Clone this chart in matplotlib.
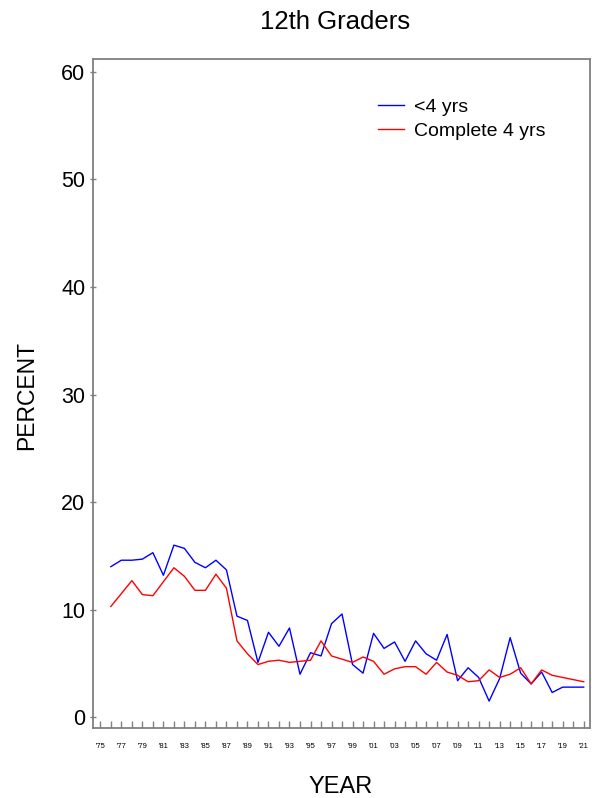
import matplotlib
matplotlib.use("Agg")
import matplotlib.pyplot as plt

plt.rcParams['font.family'] = ['Liberation Sans', 'DejaVu Sans']

years = list(range(1976, 2022))

# <4 yrs
less_4 = [14.0, 14.6, 14.6, 14.7, 15.3, 13.2, 16.0, 15.7, 14.4, 13.9,
          14.6, 13.7, 9.4, 9.0, 5.1, 7.9, 6.6, 8.3, 4.0, 6.0,
          5.7, 8.7, 9.6, 4.9, 4.1, 7.8, 6.4, 7.0, 5.2, 7.1,
          5.9, 5.3, 7.7, 3.4, 4.6, 3.7, 1.5, 3.6, 7.4, 4.1,
          3.1, 4.2, 2.3, 2.8, 2.8, 2.8]

# Complete 4 yrs
complete_4 = [10.3, 11.5, 12.7, 11.4, 11.3, 12.6, 13.9, 13.1, 11.8, 11.8,
              13.3, 12.0, 7.1, 5.9, 4.9, 5.2, 5.3, 5.1, 5.2, 5.3,
              7.1, 5.7, 5.4, 5.1, 5.6, 5.2, 4.0, 4.5, 4.7, 4.7,
              4.0, 5.1, 4.2, 3.9, 3.3, 3.4, 4.4, 3.7, 4.0, 4.6,
              3.1, 4.4, 3.9, 3.7, 3.5, 3.3]

tick_years = list(range(1975, 2022))
tick_labels = ["'%02d" % (y % 100) if y % 2 == 1 else '' for y in tick_years]

fig = plt.figure(figsize=(5.92, 7.98), dpi=100)
ax = fig.add_axes([93 / 592, 1 - 728 / 798, (590 - 93) / 592, (728 - 59) / 798])

ax.plot(years, less_4, color='#0000ff', lw=1.0, label='<4 yrs')
ax.plot(years, complete_4, color='#ff0000', lw=1.0, label='Complete 4 yrs')

ax.set_xlim(1974.3, 2021.6)
ax.set_ylim(-1.0, 61.2)

ax.set_yticks([0, 10, 20, 30, 40, 50, 60])
ax.tick_params(axis='y', direction='inout', length=5, width=1, color='#808080',
               labelsize=15.5, pad=3)
ax.set_xticks(tick_years)
ax.set_xticklabels(tick_labels)
ax.tick_params(axis='x', direction='in', length=5, width=1, color='#808080',
               labelsize=5.5, pad=11)

for s in ax.spines.values():
    s.set_color('#808080')
    s.set_linewidth(1.3)

fig.text(335 / 592, 1 - 29 / 798, '12th Graders', ha='center', va='baseline', fontsize=18.5)
fig.text(27 / 592, 1 - 395 / 798, 'PERCENT', rotation=90, ha='center', va='center',
         fontsize=16.5)
fig.text(341 / 592, 1 - 793 / 798, 'YEAR', ha='center', va='baseline', fontsize=17)

ax.legend(loc='upper left', bbox_to_anchor=(378 / 592, 1 - 98 / 798),
          bbox_transform=fig.transFigure, frameon=False, fontsize=14,
          handlelength=1.35, handletextpad=0.5, labelspacing=0.36, borderpad=0,
          borderaxespad=0)

fig.savefig('out.png', dpi=100)
